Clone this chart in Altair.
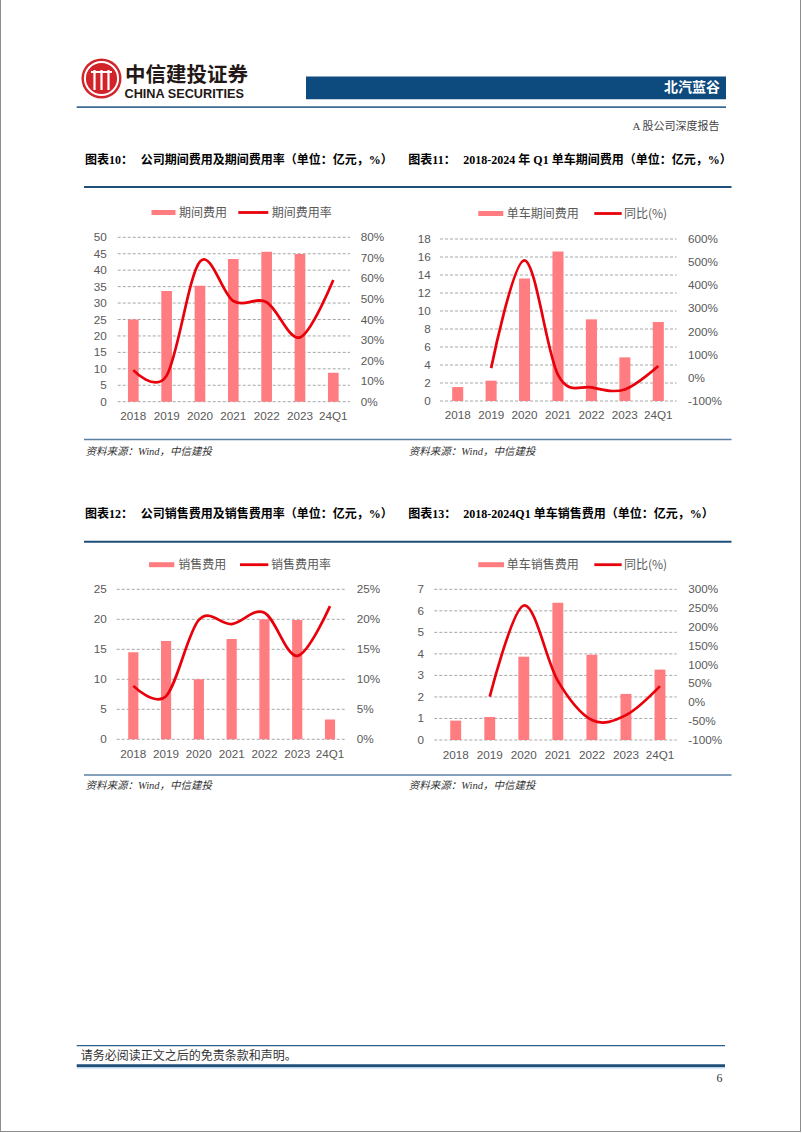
import altair as alt
import pandas as pd

# ---------------- data ----------------
cats = ["2018", "2019", "2020", "2021", "2022", "2023", "24Q1"]

# 图表10
exp_total = [25.0, 33.7, 35.3, 43.4, 45.6, 44.9, 8.8]
exp_rate = [15.4, 12.7, 68.2, 49.0, 48.4, 31.3, 59.2]
# 图表11
unit_exp = [1.55, 2.26, 13.6, 16.6, 9.07, 4.85, 8.78]
unit_exp_yoy_cats = ["2019", "2020", "2021", "2022", "2023", "24Q1"]
unit_exp_yoy = [42, 508, 13, -41, -50, 51]
# 图表12
sales = [14.5, 16.4, 10.0, 16.7, 20.0, 19.9, 3.3]
sales_rate = [8.9, 7.2, 19.9, 19.2, 21.1, 13.9, 22.2]
# 图表13
unit_sales = [0.9, 1.07, 3.87, 6.38, 3.96, 2.14, 3.27]
unit_sales_yoy_cats = ["2019", "2020", "2021", "2022", "2023", "24Q1"]
unit_sales_yoy = [15, 257, 57, -47, -34, 43]

# tick values / labels
c10_left = [0, 5, 10, 15, 20, 25, 30, 35, 40, 45, 50]
c10_right = [0, 10, 20, 30, 40, 50, 60, 70, 80]
c10_right_lab = ["0%", "10%", "20%", "30%", "40%", "50%", "60%", "70%", "80%"]
c11_left = [0, 2, 4, 6, 8, 10, 12, 14, 16, 18]
c11_right = [-100, 0, 100, 200, 300, 400, 500, 600]
c11_right_lab = ["-100%", "0%", "100%", "200%", "300%", "400%", "500%", "600%"]
c12_left = [0, 5, 10, 15, 20, 25]
c12_right = [0, 5, 10, 15, 20, 25]
c12_right_lab = ["0%", "5%", "10%", "15%", "20%", "25%"]
c13_left = [0, 1, 2, 3, 4, 5, 6, 7]
c13_right = [-100, -50, 0, 50, 100, 150, 200, 250, 300]
c13_right_lab = ["-100%", "-50%", "0%", "50%", "100%", "150%", "200%", "250%", "300%"]

# ---------------- style ----------------
SANS = "Liberation Sans, Arial, Noto Sans CJK SC"
CJK = "Noto Sans CJK SC"
SERIF = "Liberation Serif, Noto Sans CJK SC"
BAR = "#FF7C80"
LINE = "#E8000B"
GRID = "#A6A6A6"
AX = "#595959"
NAVY = "#1F4E79"


def T(text, x, y, size=12, color="#000", weight="normal", font=CJK,
      align="left", style="normal"):
    return alt.Chart().mark_text(
        text=text, align=align, baseline="middle", fontSize=size, color=color,
        fontWeight=weight, font=font, fontStyle=style
    ).encode(x=alt.value(x), y=alt.value(y))


def R(x1, x2, y, color, width):
    return alt.Chart().mark_rule(color=color, strokeWidth=width).encode(
        x=alt.value(x1), x2=alt.value(x2), y=alt.value(y))


def V(x, y1, y2, color, width):
    return alt.Chart().mark_rule(color=color, strokeWidth=width).encode(
        x=alt.value(x), y=alt.value(y1), y2=alt.value(y2))


def BOX(x1, x2, y1, y2, color):
    return alt.Chart().mark_rect(color=color).encode(
        x=alt.value(x1), x2=alt.value(x2), y=alt.value(y1), y2=alt.value(y2))


def panel(cfg):
    L = []
    # title + rules
    L.append(T(cfg["tag"], cfg["tx"], cfg["ty"], 12, "#000", "bold", SERIF))
    L.append(T(cfg["title"], cfg["tx2"], cfg["ty"], 12, "#000", "bold", SERIF))
    L.append(R(cfg["lx0"], cfg["lx1"], cfg["topline"], NAVY, 2))
    L.append(R(cfg["lx0"], cfg["lx1"], cfg["botline"], "#5B80A5", 1.5))
    L.append(T("资料来源：Wind，中信建投", cfg["tx"] + 0.5, cfg["srcy"], 10.5,
               "#333", "normal", SERIF, style="italic"))
    # legend
    ly = cfg["legy"]
    L.append(BOX(cfg["leg"][0], cfg["leg"][1], ly - 2.5, ly + 2.5, BAR))
    L.append(T(cfg["name1"], cfg["leg"][2], ly, 12, AX))
    L.append(R(cfg["leg"][3], cfg["leg"][4], ly, LINE, 2.8))
    L.append(T(cfg["name2"], cfg["leg"][5], ly, 12, AX))

    ybot, ytop = cfg["yr"]
    yl = alt.Scale(domain=[cfg["left"][0], cfg["left"][-1]], range=[ybot, ytop], nice=False, zero=False)
    yrs = alt.Scale(domain=[cfg["right"][0], cfg["right"][-1]], range=[ybot, ytop], nice=False, zero=False)
    c0, c1 = cfg["cx"]
    step = (c1 - c0) / (len(cats) - 1)
    pi = cfg["pi"]
    band = alt.Scale(type="band", domain=cats, range=[c0 - step / 2, c1 + step / 2],
                     paddingInner=pi, paddingOuter=pi / 2)
    point = alt.Scale(type="point", domain=cats, range=[c0, c1], padding=0)

    df_left = pd.DataFrame({"v": cfg["left"], "lab": [str(v) for v in cfg["left"]]})
    df_right = pd.DataFrame({"v": cfg["right"], "lab": cfg["right_lab"]})
    df_bar = pd.DataFrame({"cat": cats, "v": cfg["bars"]})
    df_line = pd.DataFrame({"cat": cfg["lcats"], "v": cfg["lvals"],
                            "i": list(range(len(cfg["lcats"])))})

    gx0, gx1 = cfg["gx"]
    L.append(alt.Chart(df_left).mark_rule(color=GRID, strokeDash=[3, 2], strokeWidth=1).encode(
        y=alt.Y("v:Q", scale=yl, axis=None), x=alt.value(gx0), x2=alt.value(gx1)))
    L.append(alt.Chart(df_bar).mark_bar(color=BAR).encode(
        x=alt.X("cat:N", scale=band, axis=None),
        y=alt.Y("v:Q", scale=yl, axis=None)))
    L.append(alt.Chart(df_line).mark_line(color=LINE, strokeWidth=2.7, interpolate="cardinal").encode(
        x=alt.X("cat:N", scale=point, axis=None),
        y=alt.Y("v:Q", scale=yrs, axis=None),
        order=alt.Order("i:Q")))
    L.append(alt.Chart(df_left).mark_text(align="right", baseline="middle", fontSize=11.7,
                                          font=SANS, color=AX).encode(
        y=alt.Y("v:Q", scale=yl, axis=None), x=alt.value(cfg["llx"]), text="lab:N"))
    L.append(alt.Chart(df_right).mark_text(align="left", baseline="middle", fontSize=11.7,
                                           font=SANS, color=AX).encode(
        y=alt.Y("v:Q", scale=yrs, axis=None), x=alt.value(cfg["rlx"]), text="lab:N"))
    L.append(alt.Chart(df_bar).mark_text(align="center", baseline="middle", fontSize=11.7,
                                         font=SANS, color=AX).encode(
        x=alt.X("cat:N", scale=point, axis=None), y=alt.value(cfg["xly"]), text="cat:N"))
    return L


c10 = dict(tag="图表10：", title="公司期间费用及期间费用率（单位：亿元，%）",
           tx=85, tx2=140.7, ty=159.5, lx0=84, lx1=400, topline=187, botline=439.5, srcy=451.7,
           legy=212.5, leg=[151.5, 175.5, 179, 238.3, 268.3, 271.7],
           name1="期间费用", name2="期间费用率",
           yr=[401.7, 237.3], cx=[133.3, 333.3], pi=0.68, gx=[117.7, 350],
           left=c10_left, right=c10_right, right_lab=c10_right_lab,
           bars=exp_total, lcats=cats, lvals=exp_rate, llx=106.7, rlx=360.7, xly=416)

c11 = dict(tag="图表11：", title="2018-2024 年 Q1 单车期间费用（单位：亿元，%）",
           tx=408.3, tx2=463.3, ty=160, lx0=400, lx1=731.5, topline=187, botline=439.5, srcy=451.7,
           legy=213.5, leg=[478.3, 503.3, 506.7, 594.3, 621.7, 624],
           name1="单车期间费用", name2="同比(%)",
           yr=[401, 239], cx=[457.7, 658.3], pi=0.67, gx=[440, 676.7],
           left=c11_left, right=c11_right, right_lab=c11_right_lab,
           bars=unit_exp, lcats=unit_exp_yoy_cats, lvals=unit_exp_yoy, llx=430.7, rlx=688, xly=415.3)

c12 = dict(tag="图表12：", title="公司销售费用及销售费用率（单位：亿元，%）",
           tx=85, tx2=140.7, ty=514, lx0=84, lx1=400, topline=541.7, botline=775, srcy=785.5,
           legy=564.7, leg=[149, 174.3, 178.3, 240, 268.3, 271],
           name1="销售费用", name2="销售费用率",
           yr=[739.3, 589.3], cx=[133.3, 330], pi=0.69, gx=[116.7, 345],
           left=c12_left, right=c12_right, right_lab=c12_right_lab,
           bars=sales, lcats=cats, lvals=sales_rate, llx=106.7, rlx=356.7, xly=754.3)

c13 = dict(tag="图表13：", title="2018-2024Q1 单车销售费用（单位：亿元，%）",
           tx=408.3, tx2=463.3, ty=514, lx0=400, lx1=731.5, topline=541.7, botline=775, srcy=785.5,
           legy=564.7, leg=[478.3, 504, 506.7, 594.3, 621.7, 624],
           name1="单车销售费用", name2="同比(%)",
           yr=[740, 589.3], cx=[455.7, 660], pi=0.68, gx=[434.3, 676.7],
           left=c13_left, right=c13_right, right_lab=c13_right_lab,
           bars=unit_sales, lcats=unit_sales_yoy_cats, lvals=unit_sales_yoy, llx=424, rlx=688.3, xly=755)

layers = []
# page frame
layers.append(V(0.5, -5, 1132, "#8C8C8C", 1))
layers.append(V(800.5, -5, 1132, "#8C8C8C", 1))
layers.append(R(0, 801, 1131.5, "#8C8C8C", 1))

# header logo
layers.append(alt.Chart().mark_point(shape="circle", size=1600, filled=True, color="#D2232A",
                                     opacity=1).encode(x=alt.value(101.5), y=alt.value(78.5)))
layers.append(alt.Chart().mark_point(shape="circle", size=1100, filled=False, color="white",
                                     strokeWidth=2, opacity=1).encode(x=alt.value(101.5), y=alt.value(78.5)))
for xx in [94.5, 101.5, 108.5]:
    layers.append(V(xx, 70, 90, "white", 2.2))
layers.append(R(91, 112, 72, "white", 2))
layers.append(T("中信建投证券", 125, 75.5, 20.5, "#231815", "bold", CJK))
layers.append(T("CHINA SECURITIES", 124.5, 93.5, 12.7, "#231815", "bold", SANS))
layers.append(BOX(306, 726, 76.5, 99.3, "#0D4A7E"))
layers.append(T("北汽蓝谷", 720, 88.3, 14, "white", "bold", CJK, align="right"))
layers.append(R(76.7, 726, 107.2, "#3D6A94", 1.8))
layers.append(T("A 股公司深度报告", 719.5, 126.7, 11, "#444", "normal", SERIF, align="right"))

for cfg in [c10, c11, c12, c13]:
    layers.extend(panel(cfg))

# footer
layers.append(R(76.7, 725, 1045.7, "#2E5E8E", 1.3))
layers.append(T("请务必阅读正文之后的免责条款和声明。", 80.7, 1055.7, 12, "#333", "normal", SERIF))
layers.append(R(76.7, 725, 1065.7, NAVY, 3))
layers.append(R(76.7, 725, 1068, "#BDD7EE", 1))
layers.append(T("6", 719.5, 1078.3, 12, "#333", "normal", SERIF, align="center"))

chart = alt.layer(*layers, data=pd.DataFrame({"d": [0]})).resolve_scale(
    x="independent", y="independent"
).properties(
    width=802, height=1133, padding=0,
    autosize=alt.AutoSizeParams(type="none"),
    background="white",
).configure_view(stroke=None)

chart.save("out.html", embed_options={"renderer": "svg", "actions": False})
